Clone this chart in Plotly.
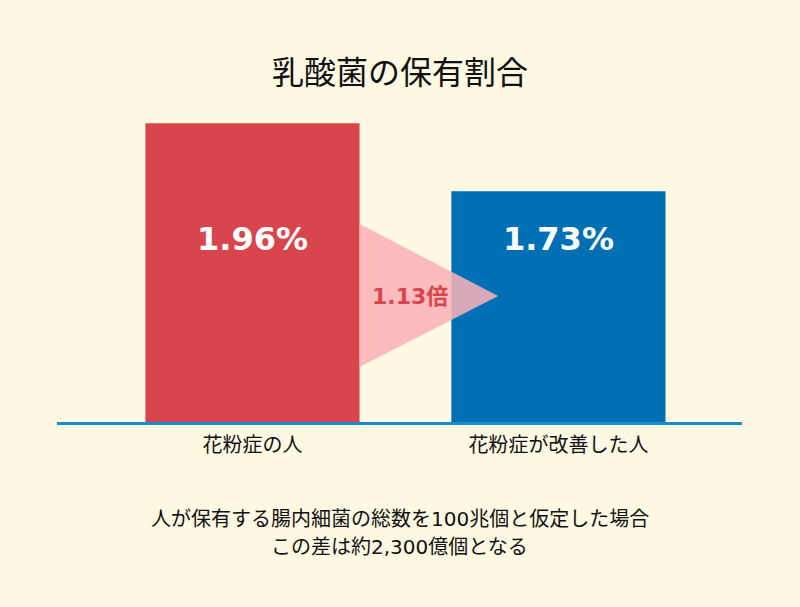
import plotly.graph_objects as go

categories = ["花粉症の人", "花粉症が改善した人"]
values = [1.96, 1.73]
bar_colors = ["#D9454C", "#0070B4"]
title = "乳酸菌の保有割合"
notes = ["人が保有する腸内細菌の総数を100兆個と仮定した場合",
         "この差は約2,300億個となる"]

JP = "Noto Sans CJK JP"
NUM = "DejaVu Sans, Noto Sans CJK JP"
BG = "#FFF8E2"
W, H = 800, 607
M_T, M_B = 100, 185

xpos = [0, 1]
bar_w = 0.70
ratio = values[0] / values[1]

fig = go.Figure()

fig.add_trace(go.Bar(
    x=xpos, y=values, width=bar_w,
    marker=dict(color=bar_colors, line=dict(width=0)),
    hoverinfo="skip",
))

# value labels sit at a common height inside the bars
fig.add_trace(go.Scatter(
    x=xpos, y=[1.56, 1.56], mode="text",
    text=[f"{v:.2f}%" for v in values],
    textfont=dict(family=NUM, size=32, color="white", weight="bold"),
    hoverinfo="skip",
))

# pink arrow between the bars
x0 = xpos[0] + bar_w / 2
x1 = xpos[1] - bar_w / 2 + 0.153
fig.add_shape(
    type="path", xref="x", yref="y",
    path=f"M {x0},1.62 L {x1},1.376 L {x0},1.136 Z",
    fillcolor="rgba(252,178,184,0.86)", line=dict(width=0), layer="above",
)
fig.add_annotation(
    x=0.515, y=1.376, xref="x", yref="y", showarrow=False,
    text=f"{ratio:.2f}倍",
    font=dict(family=NUM, size=22, color="#D9454C", weight="bold"),
)

# footnote lines, placed by pixel row below the plot area
plot_h = H - M_T - M_B
for i, line in enumerate(notes):
    row = 519 + 28 * i
    fig.add_annotation(
        x=0.5, xref="paper", y=-(row - (H - M_B)) / plot_h, yref="paper",
        xanchor="center", yanchor="middle",
        showarrow=False, text=line,
        font=dict(family="DejaVu Sans, " + JP, size=20, color="#111111"),
    )

fig.update_layout(
    width=W, height=H,
    paper_bgcolor=BG, plot_bgcolor=BG,
    margin=dict(l=57, r=58, t=M_T, b=M_B),
    showlegend=False,
    title=dict(text=title, x=0.5, xanchor="center", y=1 - 73 / H, yanchor="middle",
               font=dict(family=JP, size=32, color="#111111")),
    xaxis=dict(
        range=[-0.639, 1.6], tickvals=xpos, ticktext=categories,
        showgrid=False, zeroline=False, showline=True,
        linecolor="#1A8BCB", linewidth=3, ticks="", ticklabelstandoff=3,
        tickfont=dict(family=JP, size=20, color="#111111"),
    ),
    yaxis=dict(range=[0.95, 2.039], visible=False, fixedrange=True),
)

fig.write_html("out.html", config={"displayModeBar": False},
               post_script="document.body.style.margin='0';")
